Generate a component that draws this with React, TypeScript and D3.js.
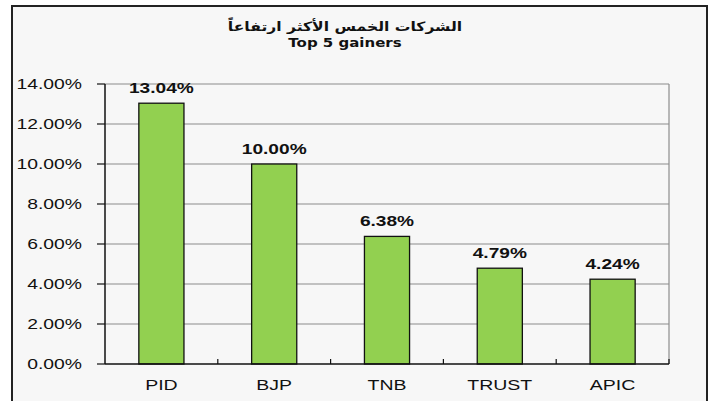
import React from "react";
import * as d3 from "d3";

const categories = ["PID", "BJP", "TNB", "TRUST", "APIC"];
const values = [13.04, 10.0, 6.38, 4.79, 4.24];
const yTicks = [0, 2, 4, 6, 8, 10, 12, 14];
const titleAr = "الشركات الخمس الأكثر ارتفاعاً";
const titleEn = "Top 5 gainers";

const font = "'Liberation Sans', Arial, sans-serif";

function SText(props: { x: number; y: number; sx?: number; anchor?: string; size: number; bold?: boolean; family?: string; children: React.ReactNode }) {
  const { x, y, sx = 1.36, anchor = "middle", size, bold, family = font, children } = props;
  return (
    <text transform={`translate(${x},${y}) scale(${sx},1)`} textAnchor={anchor as any} fontFamily={family} fontWeight={bold ? "bold" : "normal"} fontSize={size} fill="#111">
      {children}
    </text>
  );
}

export default function App() {
  const W = 713, H = 401;
  const left = 105, right = 669, top = 84, bottom = 364;
  const x = d3.scaleBand<string>().domain(categories).range([left, right]).paddingInner(0.6).paddingOuter(0.3);
  const xb = d3.scaleBand<string>().domain(categories).range([left, right]);
  const y = d3.scaleLinear().domain([0, 14]).range([bottom, top]);
  return (
    <svg width={W} height={H} style={{ position: "absolute", left: 0, top: 0 }}>
      <rect x={0} y={0} width={W} height={H} fill="#ffffff" />
      <rect x={12} y={6} width={695} height={H} fill="#f7f7f7" stroke="#222" strokeWidth={2} />
      <SText x={345} y={31} size={13} bold sx={1.2} family="'DejaVu Sans', sans-serif">{titleAr}</SText>
      <SText x={345} y={47} size={12.5} bold sx={1.2} family="'DejaVu Sans', sans-serif">{titleEn}</SText>
      {yTicks.map((t) => (
        <g key={t}>
          {t > 0 && <line x1={left} x2={right} y1={y(t)} y2={y(t)} stroke="#8c8c8c" strokeWidth={1.2} />}
          <line x1={97} x2={left} y1={y(t)} y2={y(t)} stroke="#111" strokeWidth={1.2} />
          <SText x={82} y={y(t) + 5} anchor="end" size={14} sx={1.38}>{t.toFixed(2)}%</SText>
        </g>
      ))}
      <line x1={right} x2={right} y1={top} y2={bottom} stroke="#8c8c8c" strokeWidth={1.2} />
      {categories.map((c, i) => (
        <g key={c}>
          <rect x={x(c)} y={y(values[i])} width={x.bandwidth()} height={bottom - y(values[i])} fill="#92d050" stroke="#111" strokeWidth={1.3} />
          <SText x={x(c)! + x.bandwidth() / 2} y={y(values[i]) - 10} size={14.5} bold sx={1.32}>{values[i].toFixed(2)}%</SText>
          <SText x={xb(c)! + xb.bandwidth() / 2} y={390} size={15} sx={1.3}>{c}</SText>
          <line x1={xb(c)! + xb.bandwidth()} x2={xb(c)! + xb.bandwidth()} y1={bottom} y2={bottom - 5} stroke="#111" strokeWidth={1.2} />
        </g>
      ))}
      <line x1={left} x2={left} y1={top} y2={bottom} stroke="#111" strokeWidth={1.5} />
      <line x1={left} x2={right} y1={bottom} y2={bottom} stroke="#111" strokeWidth={1.5} />
    </svg>
  );
}
